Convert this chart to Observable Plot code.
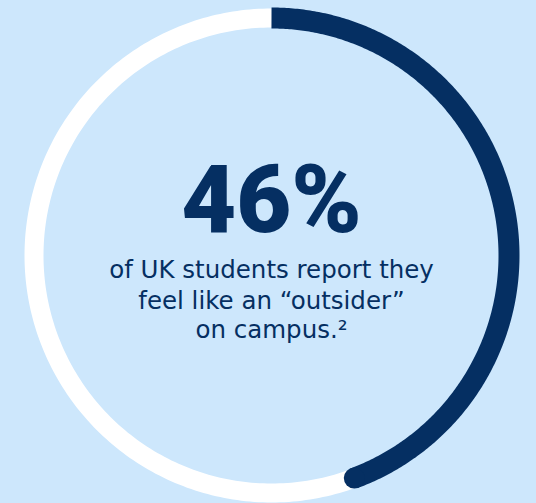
<!DOCTYPE html>
<html>
<head>
<meta charset="utf-8">
<script src="https://cdn.jsdelivr.net/npm/d3@7"></script>
<script src="https://cdn.jsdelivr.net/npm/@observablehq/plot@0.6"></script>
<style>
  html, body { margin: 0; padding: 0; background: #cde7fc; }
  #chart { width: 536px; height: 503px; overflow: hidden; }
</style>
</head>
<body>
<div id="chart"></div>
<script>
// ---- data ----
const shareValue = [46];                       // percent of students
const headline = ["46%"];
const bodyLines = ["of UK students report they", "feel like an \u201coutsider\u201d", "on campus.\u00b2"];
const bodyY = [-14.2, -45.2, -74.2];           // line positions (units relative to ring centre)

// ---- style ----
const W = 536, H = 503;
const R = 237.5;                  // ring radius in scale units
const navy = "#052f62";
const bg = "#cde7fc";
const capInsetDeg = 6;            // round end cap pulled back

const full = d3.range(0, 361, 1).map(a => ({a}));
const endDeg = shareValue[0] / 100 * 360 - capInsetDeg;
const part = d3.range(0, endDeg, 0.5).concat([endDeg]).map(a => ({a}));
const px = d => R * Math.sin(d.a * Math.PI / 180);
const py = d => R * Math.cos(d.a * Math.PI / 180);

const plot = Plot.plot({
  width: W, height: H,
  margin: 0,
  style: {background: bg},
  x: {domain: [-271, W - 271], axis: null},
  y: {domain: [-(H - 255), 255], axis: null},
  marks: [
    Plot.line(full, {x: px, y: py, stroke: "#ffffff", strokeWidth: 19, strokeLinecap: "butt"}),
    Plot.line(part, {x: px, y: py, stroke: navy, strokeWidth: 21, strokeLinecap: "butt"}),
    Plot.dot([part[part.length - 1]], {x: px, y: py, r: 10.5, fill: navy, stroke: null}),
    Plot.text(headline, {x: () => 0, y: () => 54.4, text: d => d, fill: navy,
      fontSize: 95, fontWeight: 900, fontFamily: "Roboto", textAnchor: "middle"}),
    Plot.text(bodyLines, {x: () => 0, y: (d, i) => bodyY[i], text: d => d, fill: navy,
      fontSize: 24.5, fontFamily: "DejaVu Sans", textAnchor: "middle"})
  ]
});
document.getElementById("chart").appendChild(plot);
</script>
</body>
</html>
